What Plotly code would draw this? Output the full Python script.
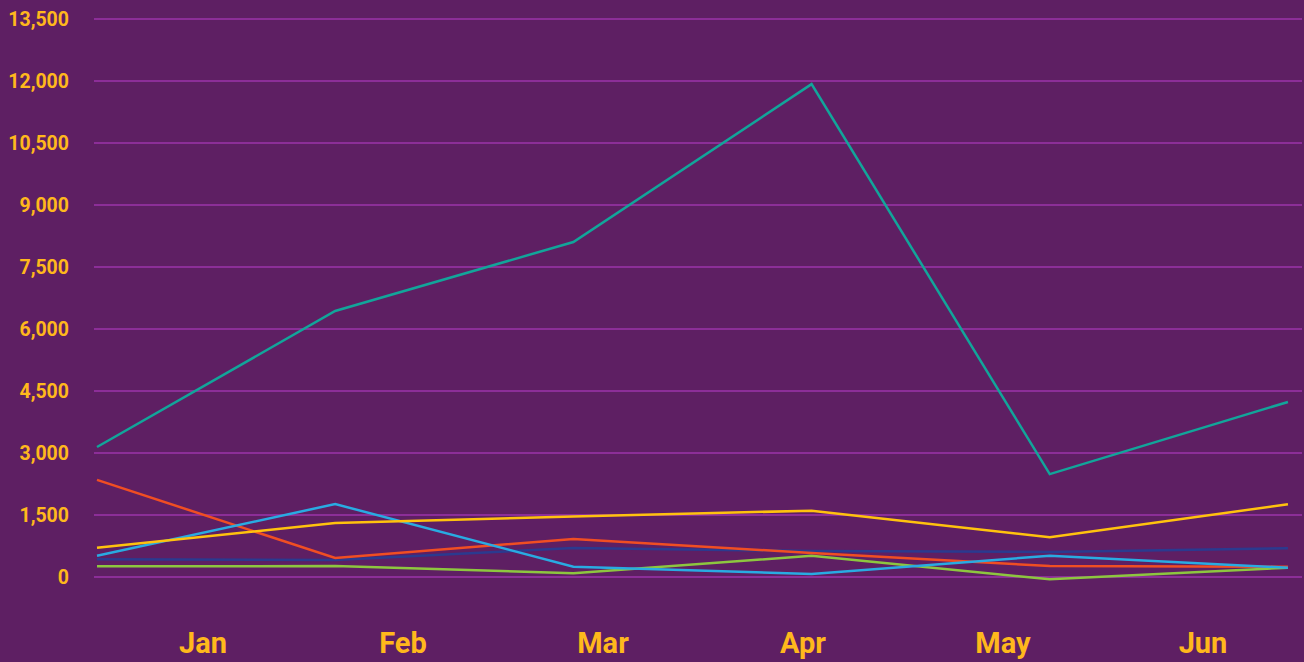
import plotly.graph_objects as go

months = ["Jan", "Feb", "Mar", "Apr", "May", "Jun"]
y_ticks = [0, 1500, 3000, 4500, 6000, 7500, 9000, 10500, 12000, 13500]

teal = [3145, 6435, 8105, 11925, 2490, 4235]
orange = [2350, 460, 920, 580, 265, 250]
yellow = [710, 1305, 1465, 1605, 960, 1760]
light_blue = [515, 1765, 250, 75, 515, 225]
green = [260, 265, 90, 515, -55, 225]
dark_blue = [430, 410, 700, 630, 605, 695]

series = [
    ("Dark blue", dark_blue, "#2b3a8f"),
    ("Green", green, "#8dc63f"),
    ("Orange", orange, "#f04e23"),
    ("Light blue", light_blue, "#29abe2"),
    ("Yellow", yellow, "#ffc20e"),
    ("Teal", teal, "#12a59a"),
]

BG = "#5e1f63"
GRID = "#8c2e98"
TXT = "#ffb81c"

fig = go.Figure()
xpos = list(range(len(months)))
for name, vals, col in series:
    fig.add_trace(go.Scatter(x=xpos, y=vals, mode="lines", name=name,
                             line=dict(color=col, width=2.5)))

# invisible trace to carry the month labels axis
fig.add_trace(go.Scatter(x=xpos, y=[0]*len(months), xaxis="x2", mode="lines",
                         line=dict(width=0), hoverinfo="skip", showlegend=False))

fig.update_layout(
    width=1304, height=662,
    paper_bgcolor=BG, plot_bgcolor=BG,
    margin=dict(l=94, r=2, t=0, b=47),
    showlegend=False,
    xaxis=dict(range=[-0.0126, 5.059], showgrid=False, zeroline=False,
               showticklabels=False, showline=False),
    xaxis2=dict(range=[-0.545, 5.495], overlaying="x", side="bottom",
                tickmode="array", tickvals=xpos, ticktext=months,
                showgrid=False, zeroline=False, showline=False, ticks="",
                ticklabelstandoff=8,
                tickfont=dict(family="Roboto", size=29, color=TXT, weight=700)),
    yaxis=dict(range=[-919, 13960], tickmode="array", tickvals=y_ticks,
               tickformat=",d", showgrid=True, gridcolor=GRID, gridwidth=2,
               zeroline=False, ticks="", ticklabelstandoff=24,
               tickfont=dict(family="Roboto", size=19.5, color=TXT, weight=700)),
)

fig.write_html("out.html", config={"displayModeBar": False},
               post_script="document.body.style.margin='0';document.body.style.background='%s';" % BG)
